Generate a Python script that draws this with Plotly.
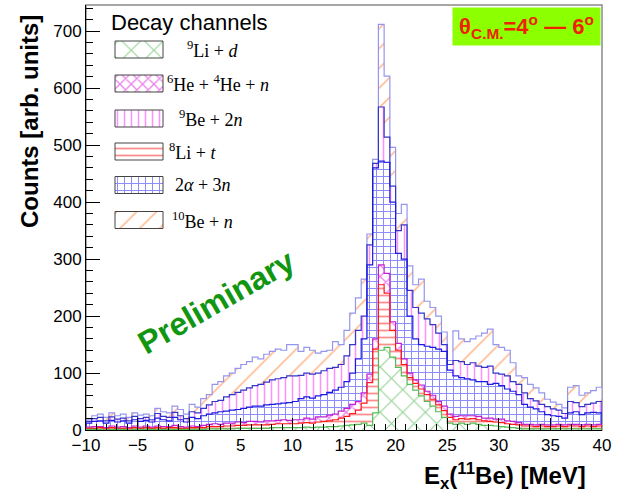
import numpy as np
import plotly.graph_objects as go

# ---------------- data (counts per 5/9 MeV bin, from -10 to 40 MeV) ----------------
x_min, x_max, n_bins = -10.0, 40.0, 90

li9_d = [1,1,1,0,1,1,1,0,1,1,1,1,1,1,1,1,1,1,
         1,1,1,2,2,2,2,2,3,3,3,3,3,3,4,4,4,4,
         4,4,5,4,5,5,6,6,7,8,9,10,12,
         8,30,140,145,128,110,95,80,70,60,50,42,32,22,
         12,10,12,10,12,10,8,8,7,6,5,4,3,
         2,2,2,2,2,2,2,2,2,2,2,2,2,2]
li8_t = [2,2,3,2,3,2,2,2,3,2,3,2,3,2,3,3,2,2,
         3,3,3,4,4,4,5,5,5,5,6,6,6,6,6,7,7,7,
         7,8,8,8,9,10,10,12,14,16,20,25,35,
         75,112,115,95,47,30,20,12,12,12,12,12,12,12,
         10,8,8,9,8,8,8,7,7,7,6,6,6,
         5,5,4,5,4,4,5,4,5,5,4,5,4,5]
he6_he4_n = [2,3,2,2,3,2,3,2,3,2,3,2,3,3,2,4,3,2,
             3,2,4,4,5,4,5,5,6,5,6,6,5,7,6,6,7,6,
             7,6,8,7,9,8,10,10,12,14,16,15,18,
             15,18,35,35,15,12,10,8,6,7,6,7,6,8,
             6,6,5,6,5,6,5,6,5,6,5,5,4,
             3,3,3,3,3,3,3,3,3,3,3,3,3,3]
alpha2_n3 = [7,9,10,8,10,9,10,8,11,10,10,9,14,12,10,14,12,9,
             15,14,17,18,19,22,21,23,22,25,25,27,28,28,29,29,29,31,
             32,37,37,37,37,39,40,42,42,47,55,75,95,
             192,300,182,195,210,158,175,100,72,71,79,84,92,96,
             77,71,67,65,63,61,64,59,63,59,56,53,49,
             35,30,28,22,18,16,14,12,20,22,18,20,22,20]
be9_n2 = [3,5,6,4,6,5,5,4,6,5,5,4,8,6,6,9,7,6,
          10,10,13,16,20,20,25,27,30,32,34,36,38,40,43,44,45,47,
          45,41,42,42,40,42,42,40,40,45,50,50,40,
          35,8,95,44,28,40,60,45,55,55,48,40,28,12,
          10,27,28,25,30,27,25,32,18,20,23,17,18,
          20,15,14,13,14,12,11,8,20,16,14,15,16,20]
be10_n = [3,5,6,6,7,6,7,6,6,6,6,7,9,8,8,11,11,8,
          13,10,17,18,30,33,37,38,42,45,46,50,45,49,50,52,48,55,
          55,42,45,42,35,34,32,45,35,45,55,57,65,
          19,7,145,107,68,30,36,43,40,60,31,30,30,22,
          7,52,40,40,42,53,60,65,50,47,45,33,15,
          27,25,23,20,13,12,10,10,25,30,20,20,22,25]

legend_labels = ["<sup>9</sup>Li + <i>d</i>",
                 "<sup>6</sup>He + <sup>4</sup>He + <i>n</i>",
                 "<sup>9</sup>Be + 2<i>n</i>",
                 "<sup>8</sup>Li + <i>t</i>",
                 "2<i>α</i> + 3<i>n</i>",
                 "<sup>10</sup>Be + <i>n</i>"]

# ---------------- geometry helpers ----------------
W, H = 620, 492
L, R, T, B = 86, 602, 5, 430
def px(x):  # pixel -> paper
    return (x - L) / (R - L)
def py(y):
    return (B - y) / (B - T)

bw = (x_max - x_min) / n_bins
edges = x_min + bw * np.arange(n_bins + 1)
centers = edges[:-1] + bw / 2

# stacking order bottom -> top
stack = [
    dict(key="li9d",  vals=li9_d,     shape="x", fg="#2ea82e", size=16, sol=0.14, line="#55bb55"),
    dict(key="li8t",  vals=li8_t,     shape="-", fg="#ff1a1a", size=7,  sol=0.25, line="#ff1a1a"),
    dict(key="he",    vals=he6_he4_n, shape="x", fg="#d800d8", size=8,  sol=0.3,  line="#c020d0"),
    dict(key="a2n3",  vals=alpha2_n3, shape="+", fg="#1a1aff", size=7,  sol=0.27, line="#1a1ae0"),
    dict(key="be9",   vals=be9_n2,    shape="|", fg="#ff22ff", size=7,  sol=0.22, line="#3535c8"),
    dict(key="be10",  vals=be10_n,    shape="/", fg="#ff6a10", size=14, sol=0.11, line="#9595ee"),
]

fig = go.Figure()
for s in stack:
    fig.add_trace(go.Bar(
        x=centers, y=s["vals"], width=bw,
        marker=dict(color="white", line=dict(width=0),
                    pattern=dict(shape=s["shape"], fgcolor=s["fg"], bgcolor="white",
                                 size=s["size"], solidity=s["sol"], fillmode="overlay")),
        showlegend=False, hoverinfo="skip"))

cum = np.zeros(n_bins)
outlines = []
for s in stack:
    cum = cum + np.array(s["vals"], dtype=float)
    xs = [edges[0]] + list(edges[:-1]) + [edges[-1], edges[-1]]
    ys = [0] + list(cum) + [cum[-1], 0]
    outlines.append((xs, ys, s["line"]))
for xs, ys, c in reversed(outlines):
    fig.add_trace(go.Scatter(x=xs, y=ys, mode="lines", line=dict(color=c, width=1.2, shape="hv"),
                             showlegend=False, hoverinfo="skip"))

# ---------------- hand-drawn legend (pixel coordinates on overlay axes) ----------------
legend_order = ["li9d", "he", "be9", "li8t", "a2n3", "be10"]
row_y = [49.5, 83.5, 118.5, 151.5, 185.0, 220.0]
text_x = [185, 165, 177, 167, 173, 170]
bymap = {s["key"]: s for s in stack}
for k, yc, lab, tx in zip(legend_order, row_y, legend_labels, text_x):
    s = bymap[k]
    x0, x1 = 115, 163
    y0, y1 = yc - 8.5, yc + 8.5
    fig.add_trace(go.Scatter(
        x=[x0, x1, x1, x0, x0], y=[y0, y0, y1, y1, y0], xaxis="x2", yaxis="y2",
        mode="lines", fill="toself", fillcolor="white",
        fillpattern=dict(shape=s["shape"], fgcolor=s["fg"], bgcolor="white",
                         size=s["size"], solidity=s["sol"], fillmode="overlay"),
        line=dict(color="#444444", width=1), showlegend=False, hoverinfo="skip"))
    fig.add_annotation(x=px(tx), y=py(yc), xref="paper", yref="paper", text=lab,
                       showarrow=False, xanchor="left", yanchor="middle",
                       font=dict(family="Liberation Serif", size=18, color="black"))

fig.add_annotation(x=px(189), y=py(22), xref="paper", yref="paper", text="Decay channels",
                   showarrow=False, xanchor="center", yanchor="middle",
                   font=dict(family="Liberation Sans", size=22, color="black"))

fig.add_annotation(x=px(601), y=py(7), xref="paper", yref="paper",
                   text="<b>θ<sub>C.M.</sub>=4<sup>o</sup> — 6<sup>o</sup></b>",
                   showarrow=False, xanchor="right", yanchor="top",
                   bgcolor="#8cff00", width=143, height=33, borderpad=2,
                   font=dict(family="Liberation Sans", size=22, color="#ee2200"))

fig.add_annotation(x=px(216), y=py(302), xref="paper", yref="paper", text="<b>Preliminary</b>",
                   showarrow=False, textangle=-30, xanchor="center", yanchor="middle",
                   font=dict(family="Liberation Sans", size=32, color="#129612"))

fig.add_annotation(x=px(30), y=py(122), xref="paper", yref="paper", text="<b>Counts [arb. units]</b>",
                   showarrow=False, textangle=-90, xanchor="center", yanchor="middle",
                   font=dict(family="Liberation Sans", size=24, color="black"))

fig.add_annotation(x=px(588), y=py(476), xref="paper", yref="paper",
                   text="<b>E<sub>x</sub>(<sup>11</sup>Be) [MeV]</b>",
                   showarrow=False, xanchor="right", yanchor="middle",
                   font=dict(family="Liberation Sans", size=24, color="black"))

# frame (gray top/right)
fig.add_shape(type="rect", xref="paper", yref="paper", x0=0, y0=0, x1=1, y1=1,
              line=dict(color="#8a8a8a", width=1.5), layer="below")

fig.update_layout(
    width=W, height=H, margin=dict(l=L, r=W - R, t=T, b=H - B),
    paper_bgcolor="white", plot_bgcolor="white",
    barmode="stack", bargap=0, showlegend=False,
    font=dict(family="Liberation Sans", size=16, color="black"),
    xaxis=dict(range=[x_min, x_max], dtick=5, tick0=-10, ticks="inside", ticklen=12,
               tickcolor="black", showline=True, linecolor="black", linewidth=1,
               showgrid=False, zeroline=False, tickfont=dict(size=17), automargin=False,
               minor=dict(dtick=1, ticks="inside", ticklen=6, tickcolor="black")),
    yaxis=dict(range=[0, 746], dtick=100, ticks="inside", ticklen=14,
               tickcolor="black", showline=True, linecolor="black", linewidth=1,
               showgrid=False, zeroline=False, tickfont=dict(size=17), automargin=False,
               minor=dict(dtick=20, ticks="inside", ticklen=7, tickcolor="black")),
    xaxis2=dict(overlaying="x", range=[L, R], visible=False, fixedrange=True),
    yaxis2=dict(overlaying="y", range=[B, T], visible=False, fixedrange=True),
)

fig.write_html("out.html", config={"displayModeBar": False, "staticPlot": True},
               post_script="document.body.style.margin='0px';")
